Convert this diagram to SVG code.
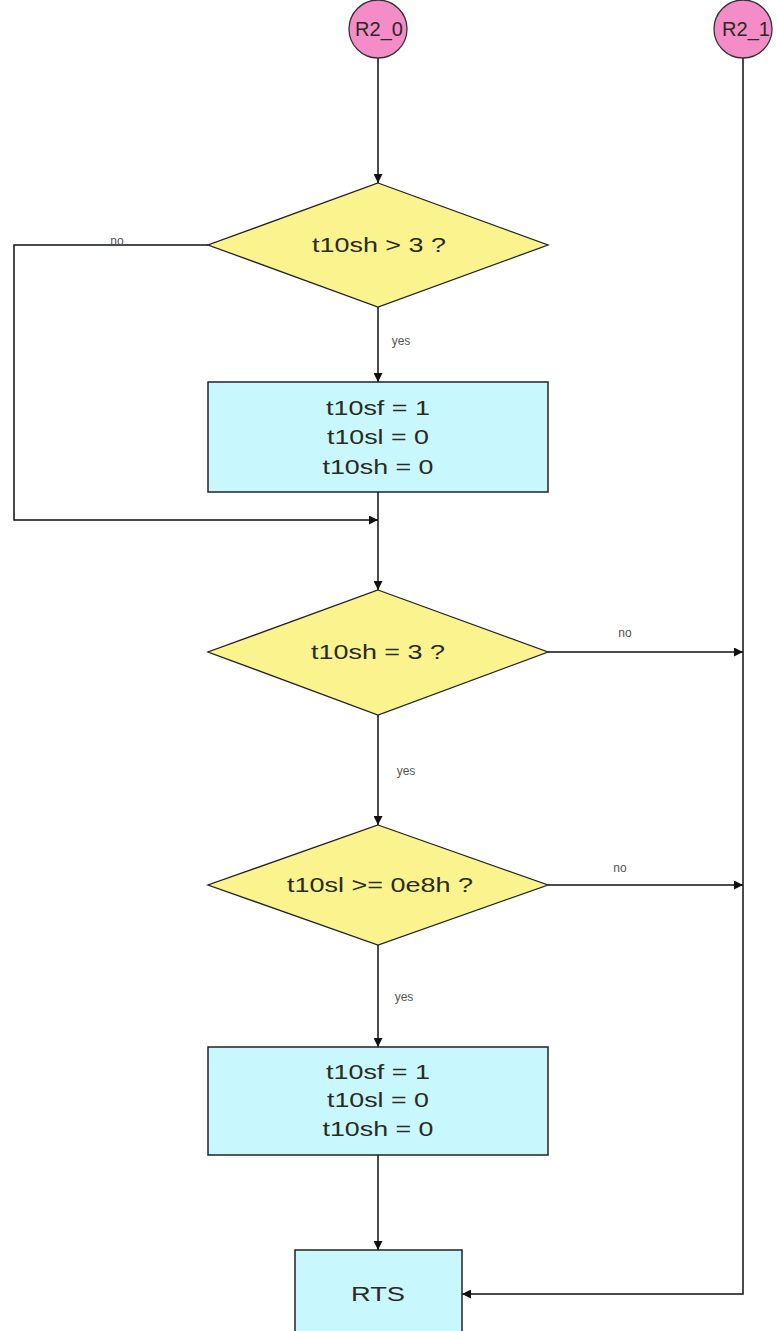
<svg xmlns="http://www.w3.org/2000/svg" width="778" height="1331" viewBox="0 0 778 1331">
<style>
.bg{fill:#ffffff}
.term{fill:#f48cc8;stroke:#333;stroke-width:1.3}
.dec{fill:#faf38e;stroke:#222;stroke-width:1.3}
.proc{fill:#c8f8fd;stroke:#222;stroke-width:1.5}
.t{font-family:"Liberation Sans",Arial,sans-serif;font-size:20px;fill:#2a2a20;text-anchor:middle}
.lbl{font-family:"Liberation Sans",Arial,sans-serif;font-size:12px;fill:#555;text-anchor:middle}
.ln{fill:none;stroke:#111;stroke-width:1.5}
</style>
<defs>
<marker id="ah" viewBox="0 0 10 10" refX="10" refY="5" markerWidth="9" markerHeight="9" markerUnits="userSpaceOnUse" orient="auto">
<path d="M0,0 L10,5 L0,10 Z" fill="#111"/>
</marker>
</defs>
<rect class="bg" x="0" y="0" width="778" height="1331"/>
<g id="connectors">
<line class="ln" x1="378" y1="58" x2="378" y2="183" marker-end="url(#ah)"/>
<polyline class="ln" points="208,245 14,245 14,520 378,520" marker-end="url(#ah)"/>
<line class="ln" x1="378" y1="307" x2="378" y2="382" marker-end="url(#ah)"/>
<line class="ln" x1="378" y1="492" x2="378" y2="590" marker-end="url(#ah)"/>
<line class="ln" x1="548" y1="652" x2="743" y2="652" marker-end="url(#ah)"/>
<line class="ln" x1="378" y1="715" x2="378" y2="825" marker-end="url(#ah)"/>
<line class="ln" x1="548" y1="885" x2="743" y2="885" marker-end="url(#ah)"/>
<line class="ln" x1="378" y1="945" x2="378" y2="1047" marker-end="url(#ah)"/>
<line class="ln" x1="378" y1="1155" x2="378" y2="1250" marker-end="url(#ah)"/>
<polyline class="ln" points="743,58 743,1294 462,1294" marker-end="url(#ah)"/>
<text class="lbl" x="117" y="245">no</text>
<text class="lbl" x="401" y="345">yes</text>
<text class="lbl" x="625" y="637">no</text>
<text class="lbl" x="406" y="775">yes</text>
<text class="lbl" x="620" y="872">no</text>
<text class="lbl" x="404" y="1001">yes</text>
</g>
<g id="R2_0">
<circle class="term" cx="378" cy="29" r="29"/>
<text class="t" x="379" y="36">R2_0</text>
</g>
<g id="R2_1">
<circle class="term" cx="743" cy="29" r="29"/>
<text class="t" x="746" y="36">R2_1</text>
</g>
<g id="dec1">
<polygon class="dec" points="378,183 548,245 378,307 208,245"/>
<text class="t" x="379" y="252" textLength="134" lengthAdjust="spacingAndGlyphs">t10sh &gt; 3 ?</text>
</g>
<g id="proc1">
<rect class="proc" x="208" y="382" width="340" height="110"/>
<text class="t" x="378" y="415" textLength="104" lengthAdjust="spacingAndGlyphs">t10sf = 1</text>
<text class="t" x="378" y="444" textLength="102" lengthAdjust="spacingAndGlyphs">t10sl = 0</text>
<text class="t" x="378" y="474" textLength="111" lengthAdjust="spacingAndGlyphs">t10sh = 0</text>
</g>
<g id="dec2">
<polygon class="dec" points="378,590 548,652 378,715 208,652"/>
<text class="t" x="378" y="659" textLength="134" lengthAdjust="spacingAndGlyphs">t10sh = 3 ?</text>
</g>
<g id="dec3">
<polygon class="dec" points="378,825 548,885 378,945 208,885"/>
<text class="t" x="380" y="892" textLength="186" lengthAdjust="spacingAndGlyphs">t10sl &gt;= 0e8h ?</text>
</g>
<g id="proc2">
<rect class="proc" x="208" y="1047" width="340" height="108"/>
<text class="t" x="378" y="1079" textLength="104" lengthAdjust="spacingAndGlyphs">t10sf = 1</text>
<text class="t" x="378" y="1107" textLength="102" lengthAdjust="spacingAndGlyphs">t10sl = 0</text>
<text class="t" x="378" y="1136" textLength="111" lengthAdjust="spacingAndGlyphs">t10sh = 0</text>
</g>
<g id="RTS">
<rect class="proc" x="295" y="1250" width="167" height="90"/>
<text class="t" x="378" y="1301" textLength="54" lengthAdjust="spacingAndGlyphs">RTS</text>
</g>
</svg>
